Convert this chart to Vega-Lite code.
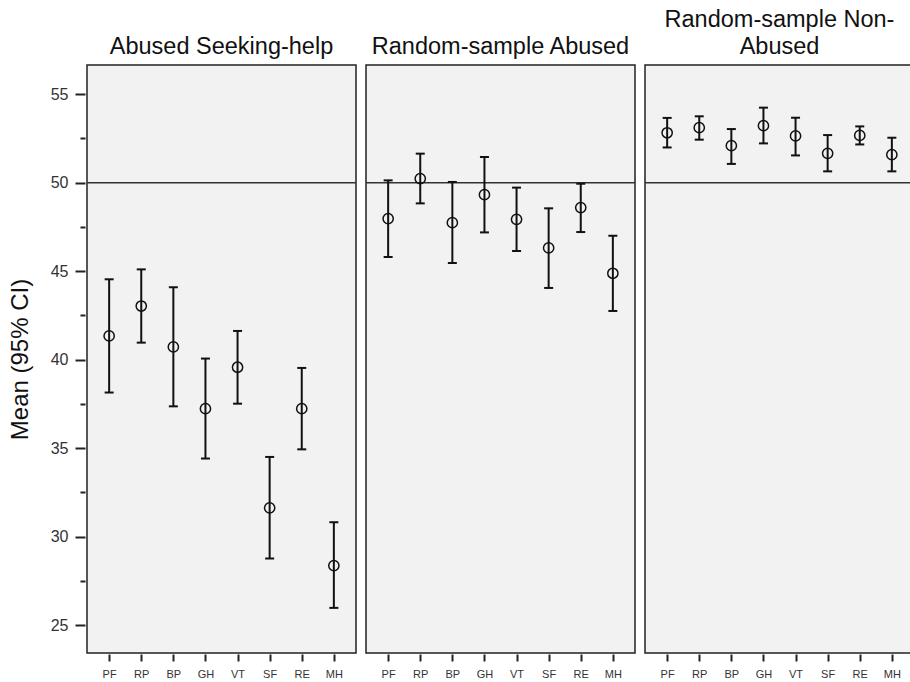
{
  "$schema": "https://vega.github.io/schema/vega-lite/v6.json",
  "padding": {"left": 8, "top": 7, "right": 0, "bottom": 0},
  "background": "white",
  "data": {"values": [
    {"group": "Abused Seeking-help", "measure": "PF", "mean": 41.34, "lo": 38.14, "hi": 44.54},
    {"group": "Abused Seeking-help", "measure": "RP", "mean": 43.03, "lo": 40.96, "hi": 45.1},
    {"group": "Abused Seeking-help", "measure": "BP", "mean": 40.72, "lo": 37.36, "hi": 44.09},
    {"group": "Abused Seeking-help", "measure": "GH", "mean": 37.23, "lo": 34.41, "hi": 40.06},
    {"group": "Abused Seeking-help", "measure": "VT", "mean": 39.57, "lo": 37.51, "hi": 41.62},
    {"group": "Abused Seeking-help", "measure": "SF", "mean": 31.62, "lo": 28.76, "hi": 34.5},
    {"group": "Abused Seeking-help", "measure": "RE", "mean": 37.23, "lo": 34.93, "hi": 39.53},
    {"group": "Abused Seeking-help", "measure": "MH", "mean": 28.36, "lo": 25.97, "hi": 30.81},
    {"group": "Random-sample Abused", "measure": "PF", "mean": 47.97, "lo": 45.8, "hi": 50.13},
    {"group": "Random-sample Abused", "measure": "RP", "mean": 50.23, "lo": 48.83, "hi": 51.64},
    {"group": "Random-sample Abused", "measure": "BP", "mean": 47.74, "lo": 45.46, "hi": 50.04},
    {"group": "Random-sample Abused", "measure": "GH", "mean": 49.32, "lo": 47.19, "hi": 51.45},
    {"group": "Random-sample Abused", "measure": "VT", "mean": 47.93, "lo": 46.14, "hi": 49.72},
    {"group": "Random-sample Abused", "measure": "SF", "mean": 46.31, "lo": 44.05, "hi": 48.55},
    {"group": "Random-sample Abused", "measure": "RE", "mean": 48.59, "lo": 47.21, "hi": 49.94},
    {"group": "Random-sample Abused", "measure": "MH", "mean": 44.88, "lo": 42.75, "hi": 47.0},
    {"group": "Random-sample Non-Abused", "measure": "PF", "mean": 52.82, "lo": 51.99, "hi": 53.66},
    {"group": "Random-sample Non-Abused", "measure": "RP", "mean": 53.11, "lo": 52.43, "hi": 53.75},
    {"group": "Random-sample Non-Abused", "measure": "BP", "mean": 52.09, "lo": 51.06, "hi": 53.03},
    {"group": "Random-sample Non-Abused", "measure": "GH", "mean": 53.22, "lo": 52.22, "hi": 54.24},
    {"group": "Random-sample Non-Abused", "measure": "VT", "mean": 52.64, "lo": 51.54, "hi": 53.67},
    {"group": "Random-sample Non-Abused", "measure": "SF", "mean": 51.66, "lo": 50.64, "hi": 52.69},
    {"group": "Random-sample Non-Abused", "measure": "RE", "mean": 52.67, "lo": 52.16, "hi": 53.18},
    {"group": "Random-sample Non-Abused", "measure": "MH", "mean": 51.58, "lo": 50.64, "hi": 52.54}
  ]},
  "facet": {
    "column": {
      "field": "group", "type": "nominal",
      "sort": ["Abused Seeking-help", "Random-sample Abused", "Random-sample Non-Abused"],
      "title": null,
      "header": {
        "labelFontSize": 23.5, "labelFont": "Liberation Sans", "labelColor": "#111",
        "labelExpr": "datum.value == 'Random-sample Non-Abused' ? ['Random-sample Non-', 'Abused'] : datum.value",
        "labelPadding": -18, "labelBaseline": "bottom", "labelLineHeight": 27
      }
    }
  },
  "spacing": 6,
  "spec": {
    "width": 269,
    "height": 588,
    "layer": [
      {
        "transform": [{"filter": "datum.measure == 'PF'"}],
        "mark": {"type": "rule", "color": "#333", "strokeWidth": 1.5},
        "encoding": {
          "y": {"datum": 50, "type": "quantitative",
                "scale": {"domain": [23.42, 56.65], "nice": false, "zero": false},
                "axis": {"title": "Mean (95% CI)", "values": [25, 27.5, 30, 32.5, 35, 37.5, 40, 42.5, 45, 47.5, 50, 52.5, 55],
                         "labelExpr": "datum.value % 5 == 0 ? datum.label : ''",
                         "tickSize": {"condition": {"test": "datum.value % 5 != 0", "value": 5}, "value": 10},
                         "tickWidth": 2, "tickColor": "#222", "domain": false, "grid": false,
                         "labelFont": "Liberation Sans", "labelFontSize": 16, "labelColor": "#333", "labelPadding": 7,
                         "titleFont": "Liberation Sans", "titleFontSize": 24, "titleFontWeight": "normal", "titleColor": "#111", "titlePadding": 18}}
        }
      },
      {
        "mark": {"type": "rule", "color": "#111", "strokeWidth": 2},
        "encoding": {
          "x": {
            "field": "measure", "type": "ordinal",
            "sort": ["PF", "RP", "BP", "GH", "VT", "SF", "RE", "MH"],
            "scale": {"type": "point", "padding": 0.69},
            "axis": {"title": null, "labelAngle": 0, "domain": false, "tickSize": 7, "tickWidth": 2, "tickColor": "#222",
                     "labelFont": "Liberation Sans", "labelFontSize": 11, "labelColor": "#333", "labelPadding": 7}
          },
          "y": {"field": "lo", "type": "quantitative", "title": "Mean (95% CI)"}, "y2": {"field": "hi"}}
      },
      {
        "mark": {"type": "tick", "color": "#111", "thickness": 2, "size": 9, "opacity": 1},
        "encoding": {
          "x": {"field": "measure", "type": "ordinal", "sort": ["PF", "RP", "BP", "GH", "VT", "SF", "RE", "MH"]},
          "y": {"field": "hi", "type": "quantitative", "title": "Mean (95% CI)"}}
      },
      {
        "mark": {"type": "tick", "color": "#111", "thickness": 2, "size": 9, "opacity": 1},
        "encoding": {
          "x": {"field": "measure", "type": "ordinal", "sort": ["PF", "RP", "BP", "GH", "VT", "SF", "RE", "MH"]},
          "y": {"field": "lo", "type": "quantitative", "title": "Mean (95% CI)"}}
      },
      {
        "mark": {"type": "point", "shape": "circle", "filled": false, "size": 105, "stroke": "#111", "strokeWidth": 1.5, "opacity": 1},
        "encoding": {
          "x": {"field": "measure", "type": "ordinal", "sort": ["PF", "RP", "BP", "GH", "VT", "SF", "RE", "MH"]},
          "y": {"field": "mean", "type": "quantitative", "title": "Mean (95% CI)"}}
      }
    ]
  },
  "config": {
    "view": {"fill": "#f2f2f2", "stroke": "#222", "strokeWidth": 1.5},
    "font": "Liberation Sans"
  }
}
